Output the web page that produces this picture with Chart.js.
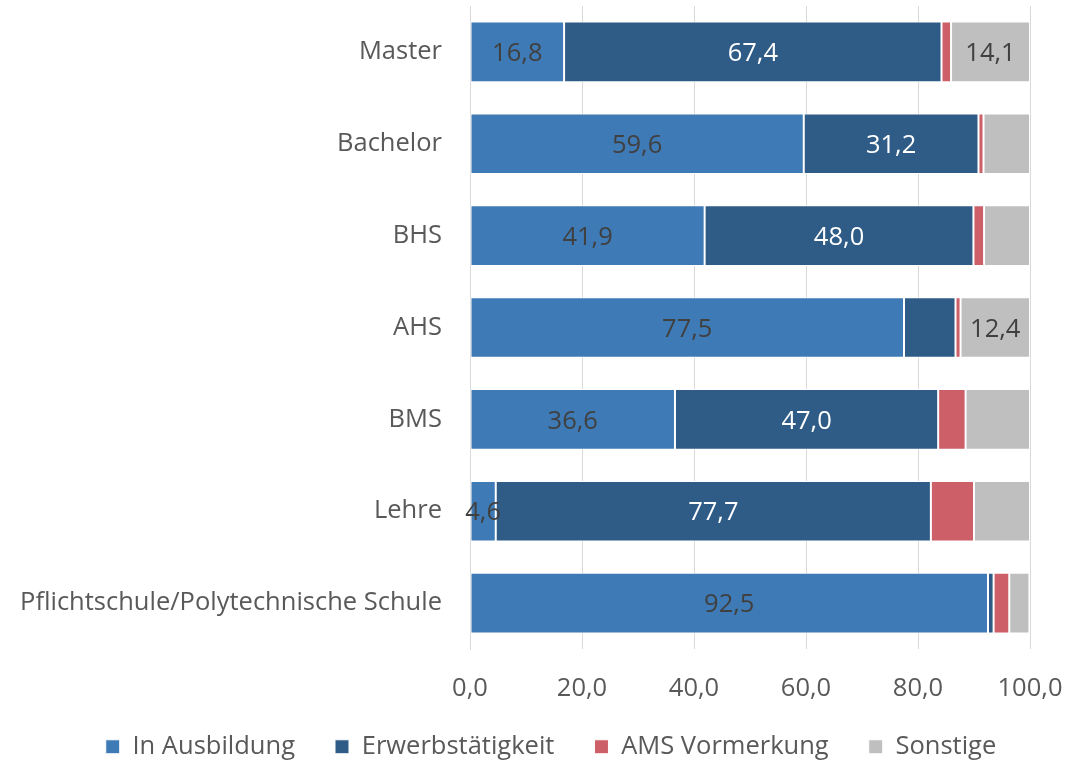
<!DOCTYPE html>
<html>
<head>
<meta charset="utf-8">
<script src="https://cdn.jsdelivr.net/npm/chart.js@4/dist/chart.umd.min.js"></script>
<style>
html,body{margin:0;padding:0;background:#fff;}
#wrap{width:1071px;height:762px;position:relative;}
</style>
</head>
<body>
<div id="wrap"><canvas id="c" width="1071" height="762"></canvas></div>
<script>
const categories = ["Master","Bachelor","BHS","AHS","BMS","Lehre","Pflichtschule/Polytechnische Schule"];
const seriesNames = ["In Ausbildung","Erwerbstätigkeit","AMS Vormerkung","Sonstige"];
const inAusbildung = [16.8, 59.6, 41.9, 77.5, 36.6, 4.6, 92.5];
const erwerbstaetigkeit = [67.4, 31.2, 48.0, 9.2, 47.0, 77.7, 1.0];
const amsVormerkung = [1.7, 0.9, 1.9, 0.9, 4.9, 7.7, 2.8];
const sonstige = [14.1, 8.3, 8.2, 12.4, 11.5, 10.0, 3.6];
const xTicks = [0, 20, 40, 60, 80, 100];
// label thresholds per series (values below are not labelled)
const labelMin = [0, 12, 100, 12];

const colors = ["#3E7AB5", "#2F5C87", "#CD5F69", "#BFBFBF"];
const labelColors = ["#404040", "#FFFFFF", "#404040", "#404040"];
const FONT = "'Open Sans', sans-serif";
const FS = 25.5;
const fmt = v => v.toFixed(1).replace('.', ',');

const dataLabelPlugin = {
  id: 'dataLabels',
  beforeLayout(chart) {
    const lg = chart.legend;
    if (lg && !lg._patched) {
      const f = lg.fit.bind(lg);
      lg.fit = function () { f(); this.height = 72; this.minSize = {width: this.width, height: 72}; };
      lg._patched = true;
    }
  },
  afterLayout(chart) {
    const x = chart.scales.x;
    x.bottom += 40;
    x.height += 40;
    const lg = chart.legend;
    if (lg) { lg.left += 36; lg.right += 36; lg.top += 4; lg.bottom += 4; }
  },
  afterDatasetsDraw(chart) {
    const ctx = chart.ctx;
    ctx.save();
    ctx.font = FS + "px " + FONT;
    ctx.textAlign = 'center';
    ctx.textBaseline = 'middle';
    chart.data.datasets.forEach((ds, di) => {
      const meta = chart.getDatasetMeta(di);
      meta.data.forEach((el, i) => {
        const v = ds.data[i];
        if (v < labelMin[di]) return;
        const cx = (el.x + el.base) / 2;
        ctx.fillStyle = labelColors[di];
        ctx.fillText(fmt(v), cx, el.y + 2);
      });
    });
    ctx.restore();
  }
};

const seriesData = [inAusbildung, erwerbstaetigkeit, amsVormerkung, sonstige];

new Chart(document.getElementById('c'), {
  type: 'bar',
  data: {
    labels: categories,
    datasets: seriesNames.map((n, i) => ({
      label: n,
      data: seriesData[i],
      backgroundColor: colors[i],
      borderColor: '#FFFFFF',
      borderWidth: 1,
      borderSkipped: false,
      categoryPercentage: 1,
      barPercentage: 0.66
    }))
  },
  options: {
    indexAxis: 'y',
    responsive: false,
    animation: false,
    devicePixelRatio: 1,
    layout: { padding: { top: 6, right: 41, left: 0, bottom: 0 } },
    scales: {
      x: {
        stacked: true,
        min: 0, max: 100,
        afterBuildTicks(scale) { scale.ticks = xTicks.map(v => ({ value: v })); },
        ticks: {
          color: '#595959',
          font: { family: FONT, size: FS },
          padding: 24,
          callback: v => fmt(v),
          maxRotation: 0
        },
        grid: { color: '#D9D9D9', lineWidth: 1, drawTicks: false },
        border: { display: false },
        afterFit(scale) { scale.height = 41; scale.paddingLeft = 0; scale.paddingRight = 0; }
      },
      y: {
        stacked: true,
        ticks: {
          color: '#595959',
          font: { family: FONT, size: FS },
          padding: 28
        },
        grid: { display: false, drawTicks: false },
        border: { display: true, color: '#D9D9D9', width: 1 },
        afterFit(scale) { scale.width = 470; scale.paddingTop = 0; scale.paddingBottom = 0; }
      }
    },
    plugins: {
      legend: {
        position: 'bottom',
        labels: {
          color: '#595959',
          font: { family: FONT, size: FS },
          boxWidth: 14,
          boxHeight: 14,
          padding: 40,
          useBorderRadius: false
        }
      },
      tooltip: { enabled: false }
    }
  },
  plugins: [dataLabelPlugin]
});
</script>
</body>
</html>
